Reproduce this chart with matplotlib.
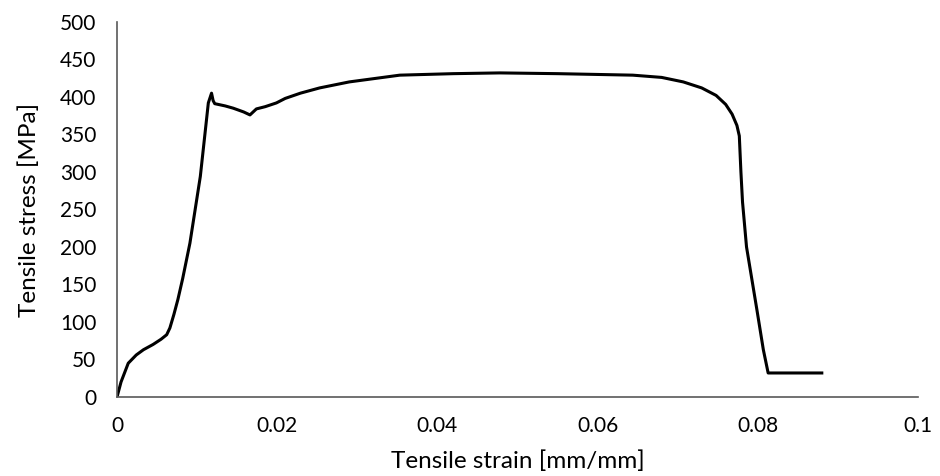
"""Tensile stress-strain curve."""

import matplotlib

matplotlib.use("Agg")
import matplotlib.pyplot as plt

strain = [0, 0.0005, 0.0014, 0.0024, 0.0033, 0.0045, 0.0055, 0.0062, 0.0066, 0.0071,
          0.0076, 0.0082, 0.0091, 0.0104, 0.0114, 0.0118, 0.0120, 0.0122, 0.0135, 0.0145,
          0.0158, 0.0166, 0.0170, 0.0174, 0.0185, 0.0199, 0.0210, 0.0229, 0.0253, 0.0290,
          0.0353, 0.0420, 0.0478, 0.0550, 0.0644, 0.0680, 0.0707, 0.0730, 0.0748, 0.0760,
          0.0768, 0.0774, 0.0777, 0.0779, 0.0781, 0.0786, 0.0799, 0.0807, 0.0813, 0.0880]
stress = [0, 20, 45, 56, 63, 70, 77, 83, 92, 110,
          130, 158, 205, 294, 392, 405, 395, 391, 388, 385,
          380, 376, 380, 384, 387, 392, 398, 405, 412, 420,
          429, 431, 432, 431, 429, 426, 420, 412, 402, 390,
          377, 362, 348, 300, 260, 200, 116, 63, 32, 32]

x_ticks = [0, 0.02, 0.04, 0.06, 0.08, 0.1]
x_labels = ["0", "0.02", "0.04", "0.06", "0.08", "0.1"]
y_ticks = list(range(0, 501, 50))

plt.rcParams["font.family"] = ["Lato", "DejaVu Sans"]

fig = plt.figure(figsize=(9.4, 4.76), dpi=100)
ax = fig.add_axes([0.1245, 0.166, 0.852, 0.788])
ax.plot(strain, stress, color="black", linewidth=2.2, solid_joinstyle="round")

ax.set_xlim(0, 0.1)
ax.set_ylim(0, 500)
ax.set_xticks(x_ticks)
ax.set_xticklabels(x_labels)
ax.set_yticks(y_ticks)
ax.tick_params(length=0, labelsize=15)
ax.tick_params(axis="x", pad=14)
ax.tick_params(axis="y", pad=15)
for side in ("top", "right"):
    ax.spines[side].set_visible(False)
for side in ("left", "bottom"):
    ax.spines[side].set_color("#595959")
    ax.spines[side].set_linewidth(1.2)

ax.set_xlabel("Tensile strain [mm/mm]", fontsize=17.5, labelpad=10)
ax.set_ylabel("Tensile stress [MPa]", fontsize=17.5, labelpad=14)

fig.savefig("out.png", dpi=100)
